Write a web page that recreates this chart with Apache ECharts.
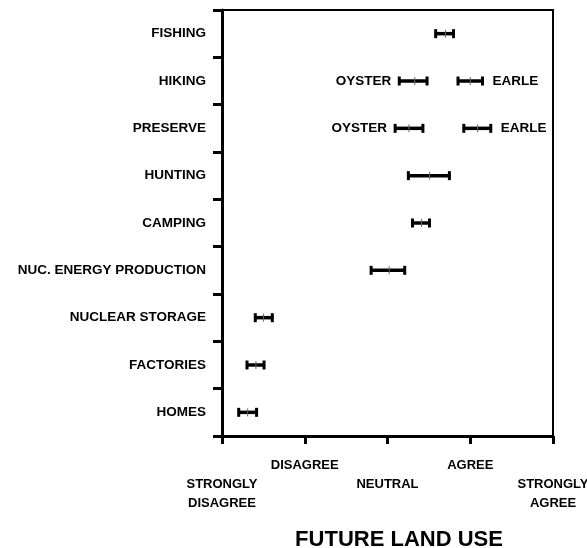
<!DOCTYPE html>
<html>
<head>
<meta charset="utf-8">
<script src="https://cdn.jsdelivr.net/npm/echarts@6/dist/echarts.min.js"></script>
<style>
  html, body { margin: 0; padding: 0; background: #fff; }
  #main { width: 587px; height: 548px; }
</style>
</head>
<body>
<div id="main"></div>
<script>
// rows, top to bottom
const categories = ['FISHING', 'HIKING', 'PRESERVE', 'HUNTING', 'CAMPING',
  'NUC. ENERGY PRODUCTION', 'NUCLEAR STORAGE', 'FACTORIES', 'HOMES'];

// one entry per error bar
const barCategory = ['FISHING', 'HIKING', 'HIKING', 'PRESERVE', 'PRESERVE', 'HUNTING',
  'CAMPING', 'NUC. ENERGY PRODUCTION', 'NUCLEAR STORAGE', 'FACTORIES', 'HOMES'];
const barLow  = [3.57, 3.13, 3.84, 3.08, 3.91, 3.24, 3.29, 2.79, 1.39, 1.29, 1.19];
const barMean = [3.70, 3.33, 4.00, 3.26, 4.09, 3.51, 3.41, 3.02, 1.50, 1.41, 1.31];
const barHigh = [3.81, 3.49, 4.16, 3.44, 4.26, 3.76, 3.52, 3.22, 1.62, 1.52, 1.43];
const barTag  = ['', 'OYSTER', 'EARLE', 'OYSTER', 'EARLE', '', '', '', '', '', ''];
const tagSide = ['', 'left', 'right', 'left', 'right', '', '', '', '', '', ''];

// scale: 1..5
const scaleLabels = ['\nSTRONGLY\nDISAGREE', 'DISAGREE', '\nNEUTRAL', 'AGREE', '\nSTRONGLY\nAGREE'];

const font = 'Liberation Sans, Arial, sans-serif';

let barData = barCategory.map(function(c, i) {
  return [categories.indexOf(c), barLow[i], barMean[i], barHigh[i], i];
});

function renderBar(params, api) {
  let cat = api.value(0);
  let lo = api.coord([api.value(1), cat]);
  let mid = api.coord([api.value(2), cat]);
  let hi = api.coord([api.value(3), cat]);
  let i = api.value(4);
  let cap = 4.5;
  let children = [
    { type: 'line', shape: { x1: lo[0], y1: lo[1], x2: hi[0], y2: hi[1] },
      style: { stroke: '#000', lineWidth: 3.5 } },
    { type: 'line', shape: { x1: lo[0] + 1, y1: lo[1] - cap, x2: lo[0] + 1, y2: lo[1] + cap },
      style: { stroke: '#000', lineWidth: 3 } },
    { type: 'line', shape: { x1: hi[0] - 1, y1: hi[1] - cap, x2: hi[0] - 1, y2: hi[1] + cap },
      style: { stroke: '#000', lineWidth: 3 } },
    { type: 'line', shape: { x1: mid[0], y1: mid[1] - 4, x2: mid[0], y2: mid[1] + 4 },
      style: { stroke: '#666', lineWidth: 1 } }
  ];
  if (barTag[i]) {
    let left = tagSide[i] == 'left';
    children.push({
      type: 'text',
      style: {
        text: barTag[i],
        x: left ? lo[0] - 7 : hi[0] + 9,
        y: lo[1],
        align: left ? 'right' : 'left',
        verticalAlign: 'middle',
        fill: '#000',
        font: 'bold 13.5px ' + font
      }
    });
  }
  return { type: 'group', children: children };
}

let chart = echarts.init(document.getElementById('main'));
chart.setOption({
  animation: false,
  backgroundColor: '#fff',
  title: {
    text: 'FUTURE LAND USE',
    left: 394,
    textAlign: 'center',
    top: 524,
    textStyle: { fontFamily: font, fontSize: 22, fontWeight: 'bold', color: '#000' }
  },
  grid: {
    left: 222, right: 34, top: 10, bottom: 112,
    outerBoundsMode: 'none',
    containLabel: false,
    show: true, borderColor: '#000', borderWidth: 2
  },
  xAxis: {
    type: 'value',
    min: 1, max: 5, interval: 1,
    splitLine: { show: false },
    axisLine: { show: true, lineStyle: { color: '#000', width: 3 } },
    axisTick: { show: true, length: 8, lineStyle: { color: '#000', width: 3 } },
    axisLabel: {
      margin: 20,
      color: '#000',
      fontFamily: font,
      fontSize: 13,
      fontWeight: 'bold',
      lineHeight: 19,
      formatter: function(v) { return scaleLabels[Math.round(v) - 1]; }
    }
  },
  yAxis: {
    type: 'category',
    inverse: true,
    data: categories,
    axisLine: { show: true, lineStyle: { color: '#000', width: 3 } },
    axisTick: { show: true, length: 9, lineStyle: { color: '#000', width: 3 } },
    axisLabel: {
      margin: 16,
      color: '#000',
      fontFamily: font,
      fontSize: 13.5,
      fontWeight: 'bold'
    }
  },
  series: [{
    type: 'custom',
    renderItem: renderBar,
    encode: { x: [1, 2, 3], y: 0 },
    data: barData
  }]
});
</script>
</body>
</html>
